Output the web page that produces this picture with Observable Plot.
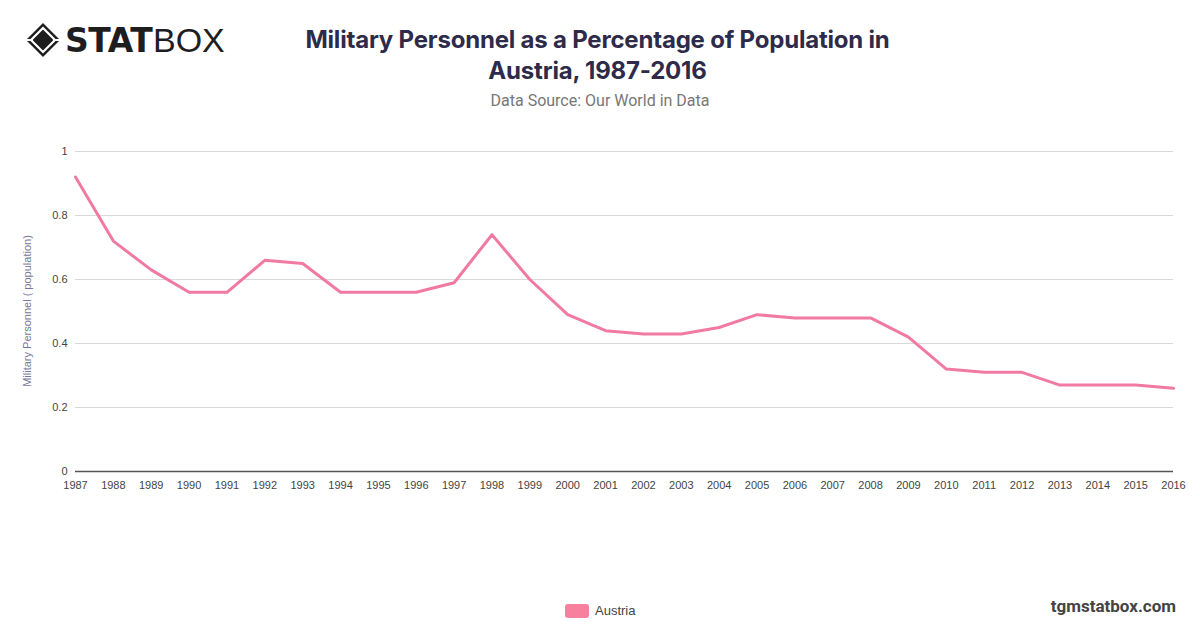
<!DOCTYPE html>
<html>
<head>
<meta charset="utf-8">
<script src="https://cdn.jsdelivr.net/npm/d3@7"></script>
<script src="https://cdn.jsdelivr.net/npm/@observablehq/plot@0.6"></script>
<style>
  html, body { margin: 0; padding: 0; background: #fff; }
  #page { position: relative; width: 1200px; height: 628px; overflow: hidden; font-family: "Liberation Sans", Arial, sans-serif; }
  #title { position: absolute; left: 0; width: 1195px; top: 24px; text-align: center; font-family: Inter, sans-serif; font-weight: 700; font-size: 24px; line-height: 31px; color: #2e2b4a; letter-spacing: -0.2px; }
  #subtitle { position: absolute; left: 0; width: 1200px; top: 91px; text-align: center; font-family: Roboto, sans-serif; font-size: 16px; color: #777; }
  #chart { position: absolute; left: 0; top: 130px; }
  #ylabel { position: absolute; left: 27px; top: 311px; transform: translate(-50%, -50%) rotate(-90deg); white-space: nowrap; font-size: 11px; color: #77779a; font-family: "Liberation Sans", Arial, sans-serif; }
  #legend { position: absolute; top: 603px; left: 565px; display: flex; align-items: center; font-family: "Liberation Sans", Arial, sans-serif; font-size: 13px; color: #444; }
  #legend .sw { width: 24px; height: 14px; background: #f7809f; border-radius: 3px; margin-right: 6px; }
  #credit { position: absolute; right: 24px; top: 596px; font-family: Roboto, sans-serif; font-weight: 700; font-size: 17px; color: #444; }
  #logo { position: absolute; left: 25px; top: 22px; }
</style>
</head>
<body>
<div id="page">
  <svg id="logo" width="220" height="40" viewBox="0 0 220 40">
    <g transform="translate(18,18)">
      <path d="M0,-17 L17,0 L0,17 L-17,0 Z" fill="#1e1e1e"/>
      <path d="M0,-12 L12,0 L0,12 L-12,0 Z" fill="none" stroke="#fff" stroke-width="2.2"/>
      <path d="M0,-6 L6,0 L0,6 L-6,0 Z" fill="#1e1e1e"/>
      <line x1="-17" y1="0" x2="-10" y2="0" stroke="#fff" stroke-width="2"/>
      <line x1="10" y1="0" x2="17" y2="0" stroke="#fff" stroke-width="2"/>
    </g>
    <text x="40" y="30" font-family="'DejaVu Sans', sans-serif" font-weight="900" font-size="33" fill="#1e1e1e" letter-spacing="-0.5">STAT</text>
    <text x="128" y="30" font-family="'Liberation Sans', sans-serif" font-weight="400" font-size="34" fill="#1e1e1e">BOX</text>
  </svg>
  <div id="title">Military Personnel as a Percentage of Population in<br>Austria, 1987-2016</div>
  <div id="subtitle">Data Source: Our World in Data</div>
  <div id="chart"></div>
  <div id="ylabel">Military Personnel ( population)</div>
  <div id="legend"><div class="sw"></div><span>Austria</span></div>
  <div id="credit">tgmstatbox.com</div>
</div>
<script>
const years = [1987,1988,1989,1990,1991,1992,1993,1994,1995,1996,1997,1998,1999,2000,2001,2002,2003,2004,2005,2006,2007,2008,2009,2010,2011,2012,2013,2014,2015,2016];
const austria = [0.92,0.72,0.63,0.56,0.56,0.66,0.65,0.56,0.56,0.56,0.59,0.74,0.60,0.49,0.44,0.43,0.43,0.45,0.49,0.48,0.48,0.48,0.42,0.32,0.31,0.31,0.27,0.27,0.27,0.26];
const yTicks = [0, 0.2, 0.4, 0.6, 0.8, 1];
const seriesName = "Austria";

const data = years.map((y, i) => ({year: y, value: austria[i], series: seriesName}));

const chart = Plot.plot({
  width: 1200,
  height: 370,
  marginLeft: 75,
  marginRight: 27,
  marginTop: 21,
  marginBottom: 29,
  style: { fontFamily: "'Liberation Sans', Arial, sans-serif", fontSize: "11px", color: "#444", background: "transparent" },
  x: { type: "linear", domain: [years[0], years[years.length - 1]], ticks: years, tickFormat: d => String(d), label: null },
  y: { domain: [0, 1], ticks: yTicks, tickFormat: d => String(d), label: null },
  marks: [
    Plot.gridY(yTicks.filter(d => d > 0), { stroke: "#d9d9d9", strokeOpacity: 1, strokeWidth: 1 }),
    Plot.axisY({ ticks: yTicks, tickSize: 0, tickPadding: 8, tickFormat: d => String(d), label: null, fill: "#444" }),
    Plot.axisX({ ticks: years, tickSize: 0, tickPadding: 10, tickFormat: d => String(d), label: null, fill: "#444" }),
    Plot.ruleY([0], { stroke: "#555", strokeWidth: 1.5 }),
    Plot.line(data, { x: "year", y: "value", stroke: "#f17aa3", strokeWidth: 3, strokeLinejoin: "round" })
  ]
});
document.getElementById("chart").appendChild(chart);
</script>
</body>
</html>
